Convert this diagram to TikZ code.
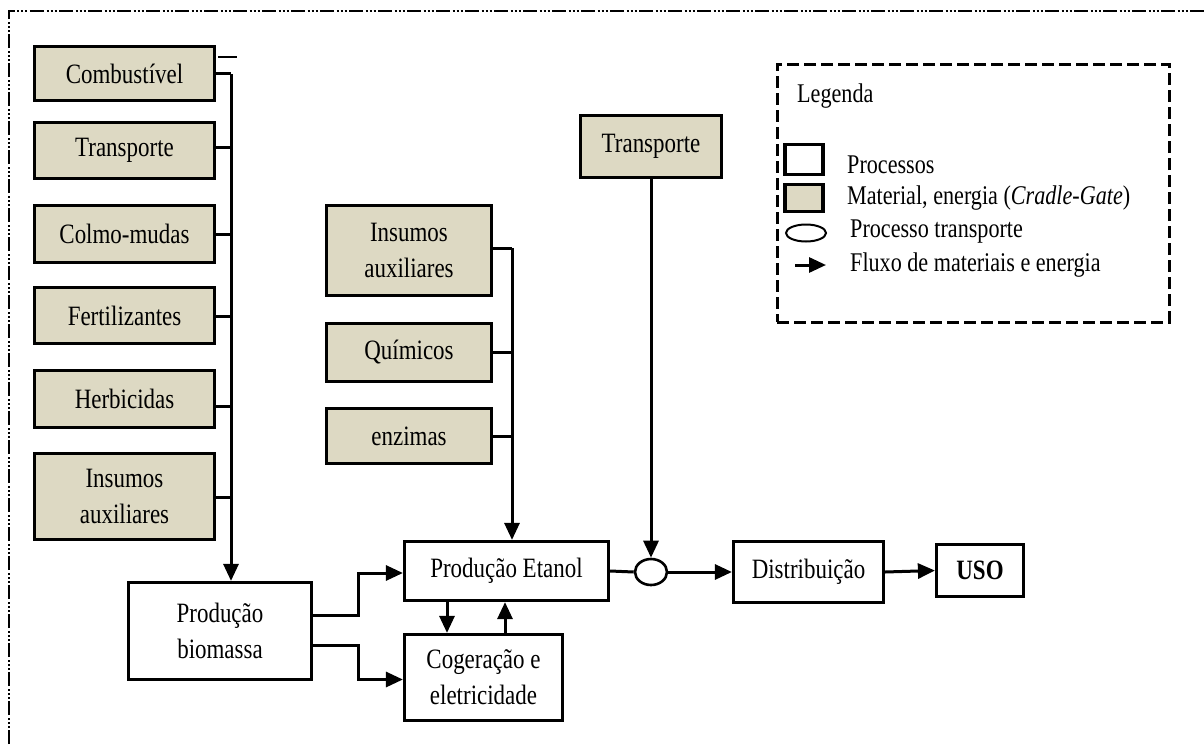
\documentclass[tikz,border=0pt]{standalone}
\usepackage{fontspec}
\setmainfont{Liberation Serif}[FakeStretch=0.82]
\usetikzlibrary{arrows.meta,shapes.geometric}
\definecolor{inputtan}{HTML}{DDD9C3}
\begin{document}
\begin{tikzpicture}[x=1pt,y=-1pt,
  box/.style={draw, line width=3.2pt, rectangle, inner sep=0pt, align=center,
              font=\fontsize{28}{36}\selectfont},
  input/.style={box, fill=inputtan},
  proc/.style={box, fill=white},
  link/.style={line width=3pt},
  flow/.style={link, -{Triangle[length=17pt,width=15pt]}},
  legtext/.style={anchor=west, inner sep=0pt, font=\fontsize{27}{30}\selectfont},
]
\useasboundingbox (0,0) rectangle (1204,744);

% frame along the top and left edges
\draw[line width=2.8pt, dash pattern=on 14pt off 2.5pt on 2pt off 2pt on 2pt off 2pt on 2pt off 2.5pt]
  (9,744) -- (9,11) -- (1204,11);

% agricultural inputs
\node[input, minimum width=180, minimum height=54] (comb)   at (124.5,73.5)  {Combustível};
\node[input, minimum width=180, minimum height=56] (transA) at (124.5,150.5) {Transporte};
\node[input, minimum width=180, minimum height=57] (colmo)  at (124.5,234)   {Colmo-mudas};
\node[input, minimum width=180, minimum height=56] (fert)   at (124.5,315.5) {Fertilizantes};
\node[input, minimum width=180, minimum height=57] (herb)   at (124.5,399)   {Herbicidas};
\node[input, minimum width=180, minimum height=86] (insA)   at (124.5,496.5) {Insumos\\auxiliares};
\draw[line width=1.6pt] (218,57) -- (237,57);

% industrial inputs
\node[input, minimum width=165, minimum height=90] (insB) at (409,250.5) {Insumos\\auxiliares};
\node[input, minimum width=165, minimum height=58] (quim) at (409,352.5) {Químicos};
\node[input, minimum width=165, minimum height=55] (enz)  at (409,436)   {enzimas};

\node[input, minimum width=141, minimum height=62] (transB) at (651,146.5) {Transporte};

% processes
\node[proc, minimum width=183, minimum height=97] (bio)  at (220,631)   {Produção\\biomassa};
\node[proc, minimum width=204, minimum height=59] (eta)  at (506.5,571) {Produção Etanol};
\node[proc, minimum width=158, minimum height=86] (cog)  at (483.5,677.5) {Cogeração e\\eletricidade};
\node[draw, line width=2.6pt, ellipse, inner sep=0pt, minimum width=32, minimum height=26] (ell) at (651,572) {};
\node[proc, minimum width=150, minimum height=61] (dist) at (808.5,572) {Distribuição};
\node[proc, minimum width=87, minimum height=52, font=\fontsize{28}{36}\selectfont\bfseries] (uso) at (980,570.5) {USO};

% collecting lines
\coordinate (lbus) at (231,74);
\draw[link] (comb.east) -- (comb.east -| lbus);
\draw[link] ([yshift=3pt]transA.east) -- ([yshift=3pt]transA.east -| lbus);
\draw[link] (colmo.east) -- (colmo.east -| lbus);
\draw[link] ([yshift=-1pt]fert.east) -- ([yshift=-1pt]fert.east -| lbus);
\draw[link] ([yshift=-7pt]herb.east) -- ([yshift=-7pt]herb.east -| lbus);
\draw[link] ([yshift=-1pt]insA.east) -- ([yshift=-1pt]insA.east -| lbus);
\draw[flow] (lbus) -- (lbus |- bio.north);

\coordinate (mbus) at (512,248);
\draw[link] ([yshift=2pt]insB.east) -- ([yshift=2pt]insB.east -| mbus);
\draw[link] (quim.east) -- (quim.east -| mbus);
\draw[link] (enz.east) -- (enz.east -| mbus);
\draw[flow] (mbus) -- (mbus |- eta.north);

% main flows
\draw[flow] ([yshift=16pt]bio.east) -- ++(45,0) |- ([yshift=-2pt]eta.west);
\draw[flow] ([yshift=-14pt]bio.east) -- ++(45,0) |- ([yshift=-2pt]cog.west);
\coordinate (dn) at (447,0);
\coordinate (up) at (505,0);
\draw[flow] (eta.south -| dn) -- (cog.north -| dn);
\draw[flow] (cog.north -| up) -- (eta.south -| up);
\draw[link] (eta.east) -- (ell.west);
\draw[flow] (transB.south) -- (ell.north);
\draw[flow] (ell.east) -- (dist.west);
\draw[flow] (dist.east) -- (uso.west);

% legend
\node[draw, line width=3pt, dash pattern=on 12pt off 5pt, inner sep=0pt,
      minimum width=392, minimum height=258] (legend) at (973,193) {};
\node[legtext] (legtitle) at (797,96) {Legenda};
\node[proc, minimum width=38, minimum height=30] (lgproc) at (804,159.5) {};
\node[input, minimum width=38, minimum height=27] (lginput) at (804,198) {};
\node[draw, line width=2pt, ellipse, inner sep=0pt, minimum width=40, minimum height=17] (lgell) at (806,233) {};
\coordinate (lga) at (795,265);
\coordinate (lgb) at (826,265);
\draw[flow] (lga) -- (lgb);
\node[legtext] (lt1) at (847,165) {Processos};
\node[legtext] (lt2) at (847,198) {Material, energia (\textit{Cradle-Gate})};
\node[legtext] (lt3) at (850,232) {Processo transporte};
\node[legtext] (lt4) at (850,265) {Fluxo de materiais e energia};
\end{tikzpicture}
\end{document}
